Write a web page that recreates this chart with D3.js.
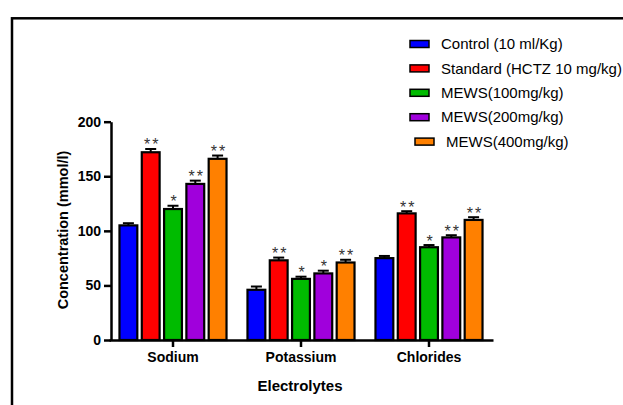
<!DOCTYPE html>
<html>
<head>
<meta charset="utf-8">
<script src="https://cdn.jsdelivr.net/npm/d3@7"></script>
<style>
  body { margin: 0; background: #fff; }
  svg { display: block; font-family: Arial, 'Liberation Sans', sans-serif; }
</style>
</head>
<body>
<div id="chart"></div>
<script>
// electrolyte groups on the x axis
const categories = ['Sodium', 'Potassium', 'Chlorides'];
const seriesLabels = ['Control (10 ml/Kg)', 'Standard (HCTZ 10 mg/kg)', 'MEWS(100mg/kg)', 'MEWS(200mg/kg)', 'MEWS(400mg/kg)'];
const seriesColors = ['#0000ff', '#ff0000', '#00bb00', '#a000dc', '#ff8000'];

// mean values, one array per treatment (Sodium, Potassium, Chlorides)
const control = [105, 46, 75];
const standard = [172, 73, 116];
const mews100 = [120, 56, 85];
const mews200 = [143, 61, 94];
const mews400 = [166, 71, 110];

// SEM per treatment
const controlErr = [2, 3, 2];
const standardErr = [3, 2.5, 2];
const mews100Err = [3, 2, 2];
const mews200Err = [3, 2.5, 2];
const mews400Err = [3, 2.5, 2.5];

// significance marks
const controlSig = ['', '', ''];
const standardSig = ['**', '**', '**'];
const mews100Sig = ['*', '*', '*'];
const mews200Sig = ['**', '*', '**'];
const mews400Sig = ['**', '**', '**'];

const yTicks = [0, 50, 100, 150, 200];

const means = [control, standard, mews100, mews200, mews400];
const errs = [controlErr, standardErr, mews100Err, mews200Err, mews400Err];
const sigs = [controlSig, standardSig, mews100Sig, mews200Sig, mews400Sig];

const W = 623, H = 405;
const svg = d3.select('#chart').append('svg').attr('width', W).attr('height', H);
svg.append('rect').attr('width', W).attr('height', H).attr('fill', '#fff');

// outer frame (right/bottom run off the picture)
svg.append('rect')
  .attr('x', 12).attr('y', 18.3).attr('width', W + 10).attr('height', H + 10)
  .attr('fill', 'none').attr('stroke', '#000').attr('stroke-width', 2.5);

const x0 = d3.scaleBand().domain(categories).range([109, 493]).padding(0);
const x1 = d3.scaleBand().domain(d3.range(seriesLabels.length)).range([0, x0.bandwidth()])
  .paddingInner(0.2).paddingOuter(0.47);
const y = d3.scaleLinear().domain([0, 200]).range([340, 121.7]);

// rows for drawing
const rows = [];
categories.forEach((c, ci) => {
  means.forEach((m, si) => {
    rows.push({ cat: c, s: si, v: m[ci], e: errs[si][ci], sig: sigs[si][ci] });
  });
});

const g = svg.append('g');
const bx = d => x0(d.cat) + x1(d.s);

// error bars (upper half, drawn under the bars)
const eb = g.selectAll('.err').data(rows).enter().append('g').attr('class', 'err')
  .attr('stroke', '#000').attr('stroke-width', 2);
eb.append('line')
  .attr('x1', d => bx(d) + x1.bandwidth() / 2).attr('x2', d => bx(d) + x1.bandwidth() / 2)
  .attr('y1', d => y(d.v)).attr('y2', d => y(d.v + d.e));
eb.append('line')
  .attr('x1', d => bx(d) + x1.bandwidth() / 2 - 5.5).attr('x2', d => bx(d) + x1.bandwidth() / 2 + 5.5)
  .attr('y1', d => y(d.v + d.e)).attr('y2', d => y(d.v + d.e));

g.selectAll('.bar').data(rows).enter().append('rect')
  .attr('class', 'bar')
  .attr('x', bx)
  .attr('y', d => y(d.v))
  .attr('width', x1.bandwidth())
  .attr('height', d => y(0) - y(d.v))
  .attr('fill', d => seriesColors[d.s])
  .attr('stroke', '#000').attr('stroke-width', 2.2);

g.selectAll('.sig').data(rows.filter(d => d.sig)).enter().append('text')
  .attr('class', 'sig')
  .attr('x', d => bx(d) + x1.bandwidth() / 2 + 1.5)
  .attr('y', d => y(d.v + d.e) + 1.5)
  .attr('text-anchor', 'middle')
  .attr('font-size', 16)
  .attr('letter-spacing', 2)
  .attr('fill', '#333')
  .text(d => d.sig);

// axes
const yAxis = svg.append('g').attr('transform', 'translate(111,0)')
  .call(d3.axisLeft(y).tickValues(yTicks).tickSize(7).tickSizeOuter(0).tickPadding(3));
const xAxis = svg.append('g').attr('transform', 'translate(0,340)')
  .call(d3.axisBottom(x0).tickSize(7).tickSizeOuter(0).tickPadding(4));
[yAxis, xAxis].forEach(a => {
  a.select('.domain').attr('stroke-width', 2.5);
  a.selectAll('.tick line').attr('stroke-width', 2.5);
  a.selectAll('text').attr('font-size', 14).attr('font-weight', 'bold')
    .attr('font-family', "Arial, 'Liberation Sans', sans-serif").attr('fill', '#000');
});
xAxis.selectAll('text').attr('dy', '0.75em');

svg.append('text')
  .attr('transform', 'translate(68,230) rotate(-90)')
  .attr('text-anchor', 'middle')
  .attr('font-size', 14.5).attr('font-weight', 'bold')
  .text('Concentration (mmol/l)');

svg.append('text')
  .attr('x', 300).attr('y', 391)
  .attr('text-anchor', 'middle')
  .attr('font-size', 15).attr('font-weight', 'bold')
  .text('Electrolytes');

// legend
const lg = svg.append('g').selectAll('g').data(seriesLabels).enter().append('g')
  .attr('transform', (d, i) => `translate(${i === 4 ? 415 : 410},${44 + i * 24.4})`);
lg.append('rect')
  .attr('x', 0).attr('y', -3.5).attr('width', 19).attr('height', 7)
  .attr('fill', (d, i) => seriesColors[i])
  .attr('stroke', '#000').attr('stroke-width', 1.5);
lg.append('text')
  .attr('x', 31).attr('y', 0).attr('dy', '0.35em')
  .attr('font-size', 15)
  .text(d => d);
</script>
</body>
</html>
